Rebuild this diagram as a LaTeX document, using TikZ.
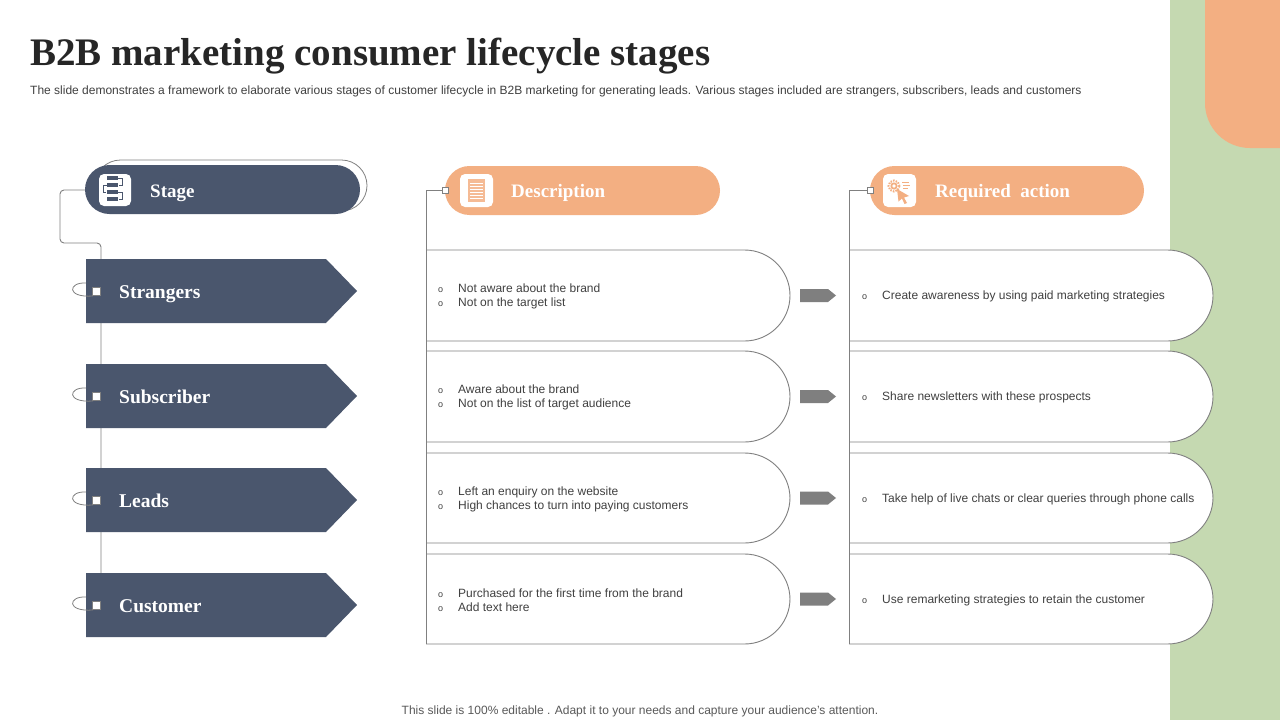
\documentclass[tikz,border=0pt]{standalone}
\usepackage{fontspec}
\setmainfont{Liberation Serif}
\newfontfamily\arial{Liberation Sans}
\definecolor{navy}{HTML}{4A566D}
\definecolor{peach}{HTML}{F3AF82}
\definecolor{sage}{HTML}{C5D9B1}
\definecolor{linegray}{HTML}{808080}
\definecolor{arrowgray}{HTML}{7F7F7F}
\definecolor{txt}{HTML}{404040}
\newcommand\bul{\makebox[20pt][l]{\fontsize{9}{9}\selectfont o}}
\begin{document}
\begin{tikzpicture}[x=1pt,y=-1pt,
  conn/.style={draw=linegray, line width=0.9pt},
  boxshape/.style={draw=linegray, line width=0.9pt, fill=white, rounded corners=45.5pt},
  stagearrow/.style={fill=navy},
  hdrlbl/.style={anchor=base west, inner sep=0pt, text=white, font=\fontsize{19}{22}\selectfont\bfseries},
  stagelbl/.style={anchor=base west, inner sep=0pt, text=white, font=\fontsize{19.5}{22}\selectfont\bfseries},
  bodytxt/.style={anchor=west, inner sep=0pt, text=txt, font=\arial\fontsize{12}{14}\selectfont, align=left},
  grayarrow/.style={fill=arrowgray},
  whitesq/.style={fill=white, rounded corners=5pt},
  smallsq/.style={draw=linegray, line width=0.6pt, fill=white}
]
\useasboundingbox (0,0) rectangle (1280,720);
\fill[white] (0,0) rectangle (1280,720);
% right decoration
\fill[sage] (1170,0) rectangle (1280,720);
\begin{scope}
\clip (0,0) rectangle (1280,720);
\fill[peach, rounded corners=45pt] (1205,-100) rectangle (1400,148);
\end{scope}

% title
\node[anchor=base west, inner sep=0pt, text=black!85, font=\fontsize{39}{44}\selectfont\bfseries] (title) at (30,65) {B2B marketing consumer lifecycle stages};
\node[anchor=base west, inner sep=0pt, text=txt, font=\arial\fontsize{12}{14}\selectfont] (subtitle) at (30,94) {The slide demonstrates a framework to elaborate various stages of customer lifecycle in B2B marketing for generating leads. Various stages included are strangers, subscribers, leads and customers};
\node[anchor=base, inner sep=0pt, text=black!65, font=\arial\fontsize{12}{14}\selectfont] (footer) at (640,714) {This slide is 100\% editable . Adapt it to your needs and capture your audience’s attention.};

% ---------- Stage column ----------
\coordinate (sc0) at (85,190);
\coordinate (sc1) at (60,190);
\coordinate (sc2) at (60,243);
\coordinate (sc3) at (101,243);
\coordinate (sc4) at (101,590);
\draw[conn, rounded corners=4pt] (sc0) -- (sc1) -- (sc2) -- (sc3) -- (sc4);

\draw[linegray, line width=0.8pt, rounded corners=25.5pt] (95,160) rectangle (367,211);
\fill[navy, rounded corners=24.5pt] (85,165) rectangle (360,214);
\fill[whitesq] (99,174) rectangle (131,206);
\begin{scope}[navy]
\fill (107,176) rectangle (118,180);
\fill (107,183) rectangle (118,187);
\fill (107,190) rectangle (118,194);
\fill (107,197) rectangle (118,201);
\draw[line width=0.6pt] (118,178) -- (122,178) -- (122,185) -- (119,185);
\draw[line width=0.6pt] (107,185) -- (103,185) -- (103,192) -- (106,192);
\draw[line width=0.6pt] (118,192) -- (122,192) -- (122,199) -- (119,199);
\end{scope}
\node[hdrlbl] (stagehdr) at (150,197) {Stage};

\foreach \t/\c/\lbl/\nm in {259/291/Strangers/sa, 364/396/Subscriber/sb, 468/500/Leads/sc, 573/605/Customer/sd} {
  \fill[stagearrow] (86,\t) -- (326,\t) -- (357,\c) -- (326,\t+64) -- (86,\t+64) -- cycle;
  \draw[linegray, line width=0.8pt] (86,\c-8) .. controls (68,\c-9) and (66,\c+7) .. (93,\c+5);
  \draw[smallsq] (92,\c-4) rectangle (100,\c+4);
  \node[stagelbl] (\nm) at (119,\c+7.5) {\lbl};
}

% ---------- Description column ----------
\coordinate (dc0) at (445,190);
\coordinate (dc1) at (426,190);
\coordinate (dc2) at (426,644);
\foreach \t/\b in {250/341, 351/442, 453/543, 554/644} {
  \path[boxshape] (426,\t) -- (790,\t) -- (790,\b) -- (426,\b);
}
\draw[conn] (dc0) -- (dc1) -- (dc2);
\fill[peach, rounded corners=24.5pt] (445,166) rectangle (720,215);
\draw[smallsq] (442,187) rectangle (448,193);
\fill[whitesq] (460,174) rectangle (493,207);
\fill[peach!85] (468,179) rectangle (485,202);
\foreach \y in {183,186,189,192,195,198} {\draw[white, line width=0.6pt] (470,\y) -- (483,\y);}
\node[hdrlbl] (deschdr) at (511,197.5) {Description};

\node[bodytxt] (d1) at (438,296.5) {\bul Not aware about the brand\\\bul Not on the target list};
\node[bodytxt] (d2) at (438,397.5) {\bul Aware about the brand\\\bul Not on the list of target audience};
\node[bodytxt] (d3) at (438,499) {\bul Left an enquiry on the website\\\bul High chances to turn into paying customers};
\node[bodytxt] (d4) at (438,600) {\bul Purchased for the first time from the brand\\\bul Add text here};

% gray arrows
\foreach \c in {295.5, 396.5, 498, 599} {
  \fill[grayarrow] (800,\c-6.5) -- (828,\c-6.5) -- (836,\c) -- (828,\c+6.5) -- (800,\c+6.5) -- cycle;
}

% ---------- Required action column ----------
\coordinate (ac0) at (870,190);
\coordinate (ac1) at (849,190);
\coordinate (ac2) at (849,644);
\foreach \t/\b in {250/341, 351/442, 453/543, 554/644} {
  \path[boxshape] (849,\t) -- (1213,\t) -- (1213,\b) -- (849,\b);
}
\draw[conn] (ac0) -- (ac1) -- (ac2);
\fill[peach, rounded corners=24.5pt] (870,166) rectangle (1144,215);
\draw[smallsq] (867,187) rectangle (873,193);
\fill[whitesq] (883,174) rectangle (916,207);
\begin{scope}[peach]
\draw[line width=2pt, dash pattern=on 1.5pt off 1.2pt] (894,186) circle (5.5);
\fill (894,186) circle (3.6);
\fill[white] (894,186) circle (1.8);
\fill (897,189) -- (909,196) -- (904,197.5) -- (907,203) -- (904.5,204) -- (902,198.5) -- (898.5,201.5) -- cycle;
\draw[line width=0.8pt] (902,182) -- (909,182);
\draw[line width=0.8pt] (903,185) -- (910,185);
\draw[line width=0.8pt] (903,188) -- (908,188);
\end{scope}
\node[hdrlbl] (acthdr) at (935,197.5) {Required\ \ action};

\node[bodytxt] (a1) at (862,296.5) {\bul Create awareness by using paid marketing strategies};
\node[bodytxt] (a2) at (862,397.5) {\bul Share newsletters with these prospects};
\node[bodytxt] (a3) at (862,499) {\bul Take help of live chats or clear queries through phone calls};
\node[bodytxt] (a4) at (862,600) {\bul Use remarketing strategies to retain the customer};
\end{tikzpicture}
\end{document}
